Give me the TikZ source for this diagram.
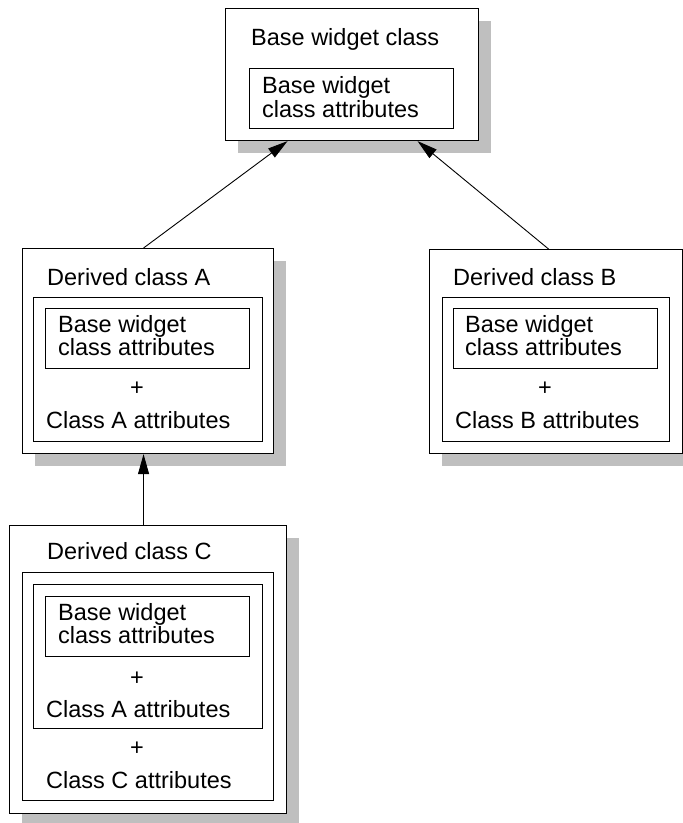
\documentclass[tikz,border=0pt]{standalone}
\usepackage{fontspec}
\setmainfont{Liberation Sans}
\usetikzlibrary{arrows.meta,shadows}

\tikzset{
  box/.style={draw, line width=1.1pt, fill=white, inner sep=0pt, anchor=north west},
  shadowbox/.style={box, drop shadow={shadow xshift=12pt, shadow yshift=-12pt, fill=black!25, opacity=1}},
  lbl/.style={anchor=base west, inner sep=0pt, font=\fontsize{23.5}{23.5}\selectfont},
  plus/.style={anchor=base, inner sep=0pt, font=\fontsize{23.5}{23.5}\selectfont},
  inherit/.style={line width=0.9pt, -{Triangle[length=20pt,width=11pt]}}
}

\begin{document}
\begin{tikzpicture}[x=1pt,y=-1pt]
\useasboundingbox (0,0) rectangle (683,823);

% Base widget class
\node[shadowbox, minimum width=253pt, minimum height=132pt] (T) at (225,8) {};
\node[box, minimum width=204pt, minimum height=60pt] (T1) at (249,68) {};
\node[lbl] (Tt) at (251,45) {Base widget class};
\node[lbl] (T1a) at (262,93) {Base widget};
\node[lbl] (T1b) at (262,117) {class attributes};

% Derived class A
\node[shadowbox, minimum width=251pt, minimum height=205pt] (A) at (22,248) {};
\node[box, minimum width=229pt, minimum height=144pt] (A2) at (33,297) {};
\node[box, minimum width=204pt, minimum height=60pt] (A3) at (45,308) {};
\node[lbl] (At) at (47,285) {Derived class A};
\node[lbl] (A3a) at (58,332) {Base widget};
\node[lbl] (A3b) at (58,355) {class attributes};
\node[plus] (Ap) at (137,395) {+};
\node[lbl] (A2b) at (46,428) {Class A attributes};

% Derived class B
\node[shadowbox, minimum width=253pt, minimum height=204pt] (B) at (429,249) {};
\node[box, minimum width=227pt, minimum height=144pt] (B2) at (442,297) {};
\node[box, minimum width=204pt, minimum height=60pt] (B3) at (453,308) {};
\node[lbl] (Bt) at (453,285) {Derived class B};
\node[lbl] (B3a) at (465,332) {Base widget};
\node[lbl] (B3b) at (465,355) {class attributes};
\node[plus] (Bp) at (545,395) {+};
\node[lbl] (B2b) at (455,428) {Class B attributes};

% Derived class C
\node[shadowbox, minimum width=277pt, minimum height=288pt] (C) at (9,525) {};
\node[box, minimum width=251pt, minimum height=228pt] (C2) at (22,572) {};
\node[box, minimum width=229pt, minimum height=144pt] (C3) at (33,584) {};
\node[box, minimum width=204pt, minimum height=60pt] (C4) at (45,596) {};
\node[lbl] (Ct) at (47,559) {Derived class C};
\node[lbl] (C4a) at (58,620) {Base widget};
\node[lbl] (C4b) at (58,643) {class attributes};
\node[plus] (Cp1) at (137,685) {+};
\node[lbl] (C3b) at (46,717) {Class A attributes};
\node[plus] (Cp2) at (137,755) {+};
\node[lbl] (C2b) at (46,788) {Class C attributes};

% Inheritance arrows
\draw[inherit] ([xshift=-4.5pt]A.north) -- ([xshift=-64.5pt]T.south);
\draw[inherit] ([xshift=-7.5pt]B.north) -- ([xshift=65.5pt]T.south);
\draw[inherit] ([xshift=-4.5pt]C.north) -- ([xshift=-4.5pt]A.south);
\end{tikzpicture}
\end{document}
